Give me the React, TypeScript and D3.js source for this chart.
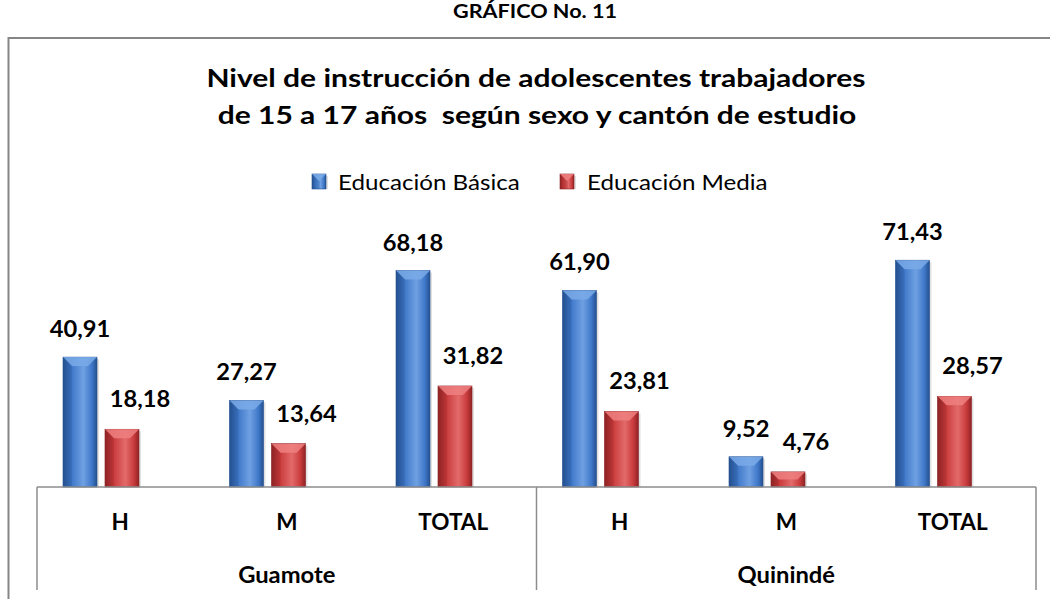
import React from "react";
import * as d3 from "d3";

const groups = ["Guamote", "Quinindé"];
const subcats = ["H", "M", "TOTAL"];
const seriesNames = ["Educación Básica", "Educación Media"];
const basica = [40.91, 27.27, 68.18, 61.9, 9.52, 71.43];
const media = [18.18, 13.64, 31.82, 23.81, 4.76, 28.57];

const W = 1050;
const H = 599;
const FONT = "Lato, 'Open Sans', sans-serif";

const colors = [
    { dark: "#24508f", mid: "#3f78c9", light: "#6fa0e2", top: "#7aaae8" },
    { dark: "#8e2325", mid: "#c93b3c", light: "#e36a6a", top: "#ee8080" },
];

const fmt = (v: number) => v.toFixed(2).replace(".", ",");

// Lato is narrower than the original Calibri, so stretch horizontally a bit
const Txt = ({ x, y, sx = 1, size, bold = true, anchor = "middle", children }: any) => (
    <text
        transform={`translate(${x},${y}) scale(${sx},1)`}
        textAnchor={anchor}
        fontSize={size}
        fontWeight={bold ? "bold" : "normal"}
        style={{ whiteSpace: "pre" }}
    >
        {children}
    </text>
);

const Bar = ({ x, y, w, h, s }: { x: number; y: number; w: number; h: number; s: number }) => {
    const b = Math.min(9, h / 2);
    return (
        <g>
            <rect x={x + 2} y={y + 2} width={w} height={h - 2} fill="#000" opacity={0.12} />
            <rect x={x} y={y} width={w} height={h} fill={`url(#grad${s})`} stroke={colors[s].dark} strokeWidth={0.6} />
            <polygon
                points={`${x},${y} ${x + w},${y} ${x + w - b},${y + b} ${x + b},${y + b}`}
                fill={colors[s].top}
                opacity={0.85}
            />
            <polygon points={`${x},${y} ${x + b},${y + b} ${x + b},${y + h} ${x},${y + h}`} fill={colors[s].dark} opacity={0.25} />
        </g>
    );
};

export default function App() {
    const left = 37;
    const right = 1036;
    const base = 487;

    const cats = d3.range(groups.length * subcats.length);
    const x = d3.scaleBand<number>().domain(cats).range([left, right]).padding(0);
    const inner = d3.scaleBand<number>().domain([0, 1]).range([0, 76]).paddingInner(0.19);
    const pairOffset = 26;
    const y = d3.scaleLinear().domain([0, 80]).range([base, base - 254]);

    const series = [basica, media];
    const groupScale = d3.scaleBand<number>().domain(d3.range(groups.length)).range([left, right]);

    return (
        <svg width={W} height={H} style={{ position: "absolute", left: 0, top: 0 }} fontFamily={FONT}>
            <defs>
                {colors.map((c, i) => (
                    <linearGradient key={i} id={`grad${i}`} x1="0" x2="1" y1="0" y2="0">
                        <stop offset="0" stopColor={c.dark} />
                        <stop offset="0.25" stopColor={c.mid} />
                        <stop offset="0.6" stopColor={c.light} />
                        <stop offset="0.85" stopColor={c.mid} />
                        <stop offset="1" stopColor={c.dark} />
                    </linearGradient>
                ))}
            </defs>
            <rect width={W} height={H} fill="#fff" />

            <Txt x={535} y={18} size={18} sx={1.2}>
                GRÁFICO No. 11
            </Txt>

            {/* outer frame */}
            <path d={`M8.5,${H} V38 H${W}`} fill="none" stroke="#868686" strokeWidth={2} />

            <Txt x={536} y={87} size={24} sx={1.25}>
                Nivel de instrucción de adolescentes trabajadores
            </Txt>
            <Txt x={537} y={124} size={24} sx={1.25}>
                de 15 a 17 años  según sexo y cantón de estudio
            </Txt>

            {/* legend */}
            {[
                { s: 0, mx: 312, tx: 338 },
                { s: 1, mx: 560, tx: 587 },
            ].map(({ s, mx, tx }) => (
                <g key={s}>
                    <Bar x={mx} y={174} w={14} h={15} s={s} />
                    <Txt x={tx} y={190} size={21} sx={1.15} bold={false} anchor="start">
                        {seriesNames[s]}
                    </Txt>
                </g>
            ))}

            {/* bars */}
            {series.map((vals, s) =>
                vals.map((v, i) => {
                    const bx = (x(i) as number) + pairOffset + (inner(s) as number);
                    const bw = inner.bandwidth();
                    return (
                        <g key={`${s}-${i}`}>
                            <Bar x={bx} y={y(v)} w={bw} h={base - y(v)} s={s} />
                            <Txt x={bx + bw / 2 + (s === 1 ? 18 : 0)} y={y(v) - (s === 1 ? 22 : 20)} size={23} sx={1.03}>
                                {fmt(v)}
                            </Txt>
                        </g>
                    );
                })
            )}

            {/* category table */}
            <g stroke="#8c8c8c" strokeWidth={1.5} fill="none">
                <line x1={left} x2={right} y1={base} y2={base} />
                {[left, groupScale(1) as number, right].map((lx, i) => (
                    <line key={i} x1={lx} x2={lx} y1={base} y2={590} />
                ))}
            </g>
            {cats.map((i) => (
                <Txt key={i} x={(x(i) as number) + x.bandwidth() / 2} y={530} size={22.5}>
                    {subcats[i % subcats.length]}
                </Txt>
            ))}
            {groups.map((g, i) => (
                <Txt key={g} x={(groupScale(i) as number) + groupScale.bandwidth() / 2} y={583} size={22} sx={1.08}>
                    {g}
                </Txt>
            ))}
        </svg>
    );
}
